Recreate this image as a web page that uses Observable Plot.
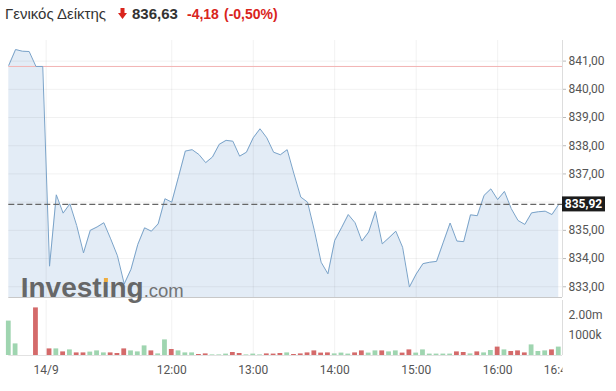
<!DOCTYPE html>
<html><head><meta charset="utf-8">
<script src="https://cdn.jsdelivr.net/npm/d3@7"></script>
<script src="https://cdn.jsdelivr.net/npm/@observablehq/plot@0.6"></script>
<style>
body{margin:0;background:#fff;}
#wrap{position:relative;width:616px;height:391px;overflow:hidden;font-family:"Liberation Sans",Arial,sans-serif;}
.t{position:absolute;white-space:nowrap;line-height:1;}
#name{left:5px;top:5.8px;font-size:15px;color:#333;}
#px{left:132px;top:5.8px;font-size:15px;font-weight:bold;color:#333;}
#chg{left:187px;top:6.6px;font-size:14px;font-weight:bold;color:#d9241c;}
#pct{left:224px;top:6.6px;font-size:14px;font-weight:bold;color:#d9241c;}
#arrow{position:absolute;left:118px;top:8px;}
#pricebox{position:absolute;left:0;top:0;}
#volbox{position:absolute;left:0;top:297px;}
#wm{position:absolute;left:20.7px;top:274.3px;font-size:28px;font-weight:bold;line-height:28px;color:#5c5c5c;white-space:nowrap;opacity:.92;pointer-events:none;}
#wm .com{font-size:18.5px;font-weight:normal;color:#6a6a6a;}
.idot{position:relative;}
.idot::after{content:"";position:absolute;left:50%;transform:translateX(-50%);top:0.2em;width:0.15em;height:0.15em;background:#f0a830;}
</style></head>
<body>
<div id="wrap">
  <div id="pricebox"></div>
  <div id="volbox"></div>
  <div id="wm">Invest<span class="idot">ı</span>ng<span class="com">.com</span></div>
  <div class="t" id="name"></div>
  <svg id="arrow" width="9" height="11"><path d="M2.5,0H6.5V5H9L4.5,11L0,5H2.5Z" fill="#d9241c"/></svg>
  <div class="t" id="px"></div>
  <div class="t" id="chg"></div>
  <div class="t" id="pct"></div>
</div>
<script>
// ---- data ----
const indexName = "Γενικός Δείκτης";
const headlinePrice = 836.63;
const headlineChange = -4.18;
const headlinePct = -0.50;
const prevClose = 840.81;

// previous session (last 5-min slots)
const prevValues = [840.85, 841.41, 841.35, 841.34, 840.81, 840.81];
const prevVolumes = [1720000, 580000, 0, 0, 2380000, 0];

// 14/9 session, 5-minute slots from 10:30
const todayValues = [
  833.73, 836.26, 835.61, 835.94, 835.17, 834.20, 835.00, 835.12, 835.27, 834.70,
  834.10, 833.10, 833.62, 834.50, 835.09, 834.97, 835.23, 836.12, 836.00, 836.90,
  837.81, 837.86, 837.69, 837.40, 837.60, 838.05, 838.19, 838.16, 837.63, 837.77,
  838.28, 838.60, 838.28, 837.77, 837.68, 837.86, 837.00, 836.18, 836.00, 835.00,
  833.87, 833.46, 834.64, 835.09, 835.56, 835.27, 834.62, 834.94, 835.67, 834.52,
  834.74, 834.97, 834.40, 832.99, 833.45, 833.82, 833.87, 833.90, 834.58, 835.26,
  834.62, 834.60, 835.55, 835.52, 836.24, 836.47, 836.09, 836.38, 835.77, 835.35,
  835.21, 835.62, 835.66, 835.68, 835.56, 835.92
];
const todayVolumes = [
  330000, 330000, 180000, 280000, 130000, 130000, 170000, 230000, 130000, 130000,
  100000, 330000, 230000, 180000, 480000, 230000, 80000, 780000, 300000, 230000,
  130000, 130000, 50000, 80000, 30000, 30000, 70000, 150000, 100000, 30000,
  70000, 30000, 80000, 70000, 100000, 130000, 50000, 80000, 130000, 230000,
  120000, 130000, 80000, 120000, 70000, 130000, 230000, 120000, 230000, 230000,
  180000, 230000, 120000, 280000, 120000, 280000, 70000, 70000, 70000, 70000,
  180000, 150000, 80000, 180000, 130000, 250000, 420000, 280000, 200000, 230000,
  130000, 530000, 200000, 230000, 280000, 420000
];

// x ticks (slot index -> label)
const xTickSlots = [-0.5, 18, 30, 42, 54, 66, 75];
const xTickLabels = ["14/9", "12:00", "13:00", "14:00", "15:00", "16:00", "16:45"];
const yGrid = [833, 834, 835, 836, 837, 838, 839, 840, 841];
const yTickLabels = [833, 834, 835, 837, 838, 839, 840, 841];
const volTicks = [2000000, 1000000];
const volTickLabels = ["2.00m", "1000k"];

const yMin = 832.62, yMax = 841.73;
const volMax = 2750000;

// ---- build ----
const loc = d3.formatLocale({decimal: ",", thousands: ".", grouping: [3], currency: ["", ""], minus: "-"});
const f2 = loc.format(".2f");

document.getElementById("name").textContent = indexName;
document.getElementById("px").textContent = f2(headlinePrice);
document.getElementById("chg").textContent = f2(headlineChange);
document.getElementById("pct").textContent = "(" + f2(headlinePct) + "%)";

const series = [
  ...prevValues.map((v, i) => ({slot: i - prevValues.length, value: v, vol: prevVolumes[i]})),
  ...todayValues.map((v, i) => ({slot: i, value: v, vol: todayVolumes[i]}))
];
series.forEach((d, i) => { d.up = i === 0 ? true : d.value >= series[i - 1].value; });
const last = series[series.length - 1].value;
const xDomain = [series[0].slot, series[series.length - 1].slot + 0.55];
const xLabelMap = new Map(xTickSlots.map((s, i) => [s, xTickLabels[i]]));
const volLabelMap = new Map(volTicks.map((s, i) => [s, volTickLabels[i]]));
const green = "#9fd5b0", red = "#d46a6a";

const common = {width: 616, marginLeft: 8.3, marginRight: 54,
  style: {fontFamily: "Roboto, sans-serif", fontSize: "12px", background: "transparent", overflow: "visible"}};

const price = Plot.plot({
  ...common,
  height: 300, marginTop: 40, marginBottom: 3,
  x: {domain: xDomain, axis: null},
  y: {domain: [yMin, yMax], axis: null},
  marks: [
    Plot.areaY(series, {x: "slot", y1: yMin, y2: "value", fill: "#e3ecf6"}),
    Plot.gridY(yGrid, {stroke: "#000", strokeOpacity: 0.055}),
    Plot.gridX(xTickSlots.slice(0, -1), {stroke: "#000", strokeOpacity: 0.055}),
    Plot.ruleY([prevClose], {stroke: "#f2b3b3", strokeWidth: 1}),
    Plot.lineY(series, {x: "slot", y: "value", stroke: "#7aa3c9", strokeWidth: 1}),
    Plot.ruleY([last], {stroke: "#666", strokeWidth: 1.3, strokeDasharray: "6,3"}),
    Plot.ruleY([yMin], {stroke: "#c8c8c8"}),
    Plot.ruleX([xDomain[1]], {stroke: "#ddd"}),
    Plot.axisY(yTickLabels, {anchor: "right", label: null, tickSize: 3, tickPadding: 3, tickFormat: f2, stroke: "#bbb", fill: "#555"}),
    (index, scales, values, dims) => {
      const g = d3.create("svg:g");
      const y = scales.y(last);
      const x0 = dims.width - dims.marginRight;
      g.append("rect").attr("x", x0).attr("y", y - 7.5).attr("width", 43).attr("height", 15).attr("fill", "#1c1c1c");
      g.append("text").attr("x", x0 + 21.5).attr("y", y).attr("dy", "0.35em")
        .attr("text-anchor", "middle").attr("fill", "#fff").attr("font-weight", "bold")
        .attr("font-family", "Roboto, sans-serif").attr("font-size", 12).text(f2(last));
      return g.node();
    }
  ]
});
document.getElementById("pricebox").appendChild(price);

const vol = Plot.plot({
  ...common,
  height: 94, marginTop: 3, marginBottom: 36,
  x: {domain: xDomain, axis: null},
  y: {domain: [0, volMax], axis: null},
  marks: [
    Plot.gridX(xTickSlots.slice(0, -1), {stroke: "#000", strokeOpacity: 0.055, y1: 0, y2: volMax}),
    Plot.rectY(series.filter(d => d.vol > 0), {x1: d => d.slot - 0.5, x2: d => d.slot + 0.5, y: "vol",
      insetLeft: 1, insetRight: 1, fill: d => d.up ? green : red}),
    Plot.ruleY([0], {stroke: "#e2e2e2"}),
    Plot.ruleX([xDomain[1]], {stroke: "#ddd"}),
    Plot.axisY(volTicks, {anchor: "right", label: null, tickSize: 0, tickPadding: 6, tickFormat: d => volLabelMap.get(d), fill: "#555"}),
    Plot.axisX(xTickSlots, {label: null, tickSize: 0, tickPadding: 10, tickFormat: d => xLabelMap.get(d), fill: "#555"})
  ]
});
// clip the x labels at the right axis line (in the labels' group coordinates)
(function () {
  const ns = "http://www.w3.org/2000/svg";
  const defs = document.createElementNS(ns, "defs");
  const cp = document.createElementNS(ns, "clipPath");
  cp.setAttribute("id", "xclip");
  const r = document.createElementNS(ns, "rect");
  r.setAttribute("x", -50); r.setAttribute("y", -200);
  r.setAttribute("width", 616 - 54 + 50); r.setAttribute("height", 600);
  cp.appendChild(r); defs.appendChild(cp); vol.insertBefore(defs, vol.firstChild);
  vol.querySelectorAll("text").forEach(t => {
    if (t.textContent === xTickLabels[xTickLabels.length - 1]) {
      t.parentNode.setAttribute("clip-path", "url(#xclip)");
    }
  });
})();
document.getElementById("volbox").appendChild(vol);
</script>
</body></html>
